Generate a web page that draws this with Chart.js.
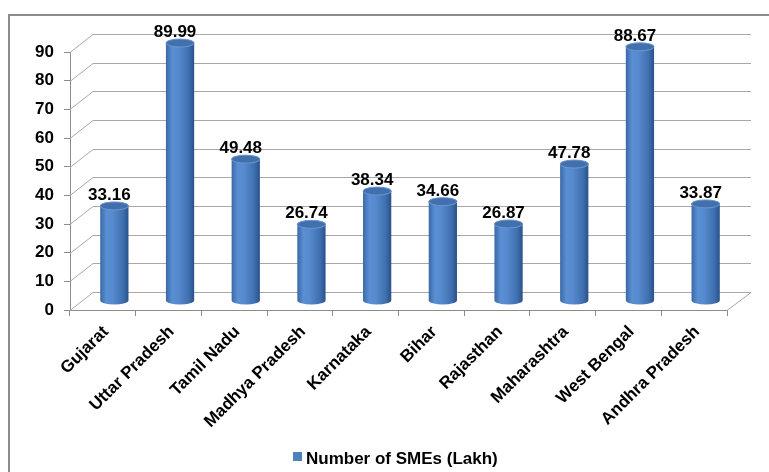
<!DOCTYPE html>
<html>
<head>
<meta charset="utf-8">
<script src="https://cdn.jsdelivr.net/npm/chart.js@4.4.1/dist/chart.umd.min.js"></script>
<style>
  body { margin: 0; background: #fff; }
  #wrap { width: 769px; height: 472px; }
</style>
</head>
<body>
<div id="wrap"><canvas id="myChart"></canvas></div>
<script>
const states = ["Gujarat", "Uttar Pradesh", "Tamil Nadu", "Madhya Pradesh", "Karnataka",
  "Bihar", "Rajasthan", "Maharashtra", "West Bengal", "Andhra Pradesh"];
const smes = [33.16, 89.99, 49.48, 26.74, 38.34, 34.66, 26.87, 47.78, 88.67, 33.87];
const seriesName = "Number of SMEs (Lakh)";

// depth of the fake 3d box (back wall offset)
const DX = 23;
const DY = 18;
const FONT = "'Liberation Sans', Arial, sans-serif";

const box3d = {
  id: "box3d",
  beforeDraw(chart) {
    const c = chart.ctx;
    c.save();
    c.strokeStyle = "#8c8c8c";
    c.lineWidth = 2;
    c.strokeRect(9, 15, 800, 500);
    c.restore();
  },
  beforeDatasetsDraw(chart) {
    const c = chart.ctx;
    const y = chart.scales.y;
    const a = chart.chartArea;
    c.save();
    c.strokeStyle = "#a8a8a8";
    c.lineWidth = 1;
    y.ticks.forEach((t) => {
      const py = Math.round(y.getPixelForValue(t.value)) + 0.5;
      c.beginPath();
      c.moveTo(a.left, py);
      c.lineTo(a.left + DX, py - DY);
      c.lineTo(a.right + DX + 1, py - DY);
      c.stroke();
    });
    // right edge of the floor
    c.beginPath();
    c.moveTo(a.right, a.bottom + 0.5);
    c.lineTo(a.right + DX + 1, a.bottom + 0.5 - DY);
    c.stroke();
    c.restore();
  },
  beforeDatasetDraw(chart, args) {
    const c = chart.ctx;
    const meta = chart.getDatasetMeta(args.index);
    c.save();
    meta.data.forEach((bar) => {
      const p = bar.getProps(["x", "y", "base", "width"], true);
      const cx = p.x + DX / 2;
      const top = p.y - DY / 2;
      const bot = p.base - DY / 2;
      const r = p.width / 2;
      const ry = 4;
      const g = c.createLinearGradient(cx - r, 0, cx + r, 0);
      g.addColorStop(0, "#3a68a6");
      g.addColorStop(0.22, "#5a8fd4");
      g.addColorStop(0.45, "#5689cd");
      g.addColorStop(0.8, "#3f70b0");
      g.addColorStop(1, "#2b5189");
      c.beginPath();
      c.moveTo(cx - r, top);
      c.lineTo(cx - r, bot);
      c.ellipse(cx, bot, r, ry, 0, Math.PI, 0, true);
      c.lineTo(cx + r, top);
      c.ellipse(cx, top, r, ry, 0, 0, Math.PI, true);
      c.closePath();
      c.fillStyle = g;
      c.fill();
      c.beginPath();
      c.ellipse(cx, top, r, ry, 0, 0, Math.PI * 2);
      c.fillStyle = "#4170ad";
      c.fill();
      c.strokeStyle = "#6d98d2";
      c.lineWidth = 1;
      c.stroke();
    });
    c.restore();
    return false;
  },
  afterDatasetsDraw(chart) {
    const c = chart.ctx;
    const meta = chart.getDatasetMeta(0);
    c.save();
    c.font = "bold 17px " + FONT;
    c.fillStyle = "#000";
    c.textAlign = "center";
    c.textBaseline = "alphabetic";
    meta.data.forEach((bar, i) => {
      const p = bar.getProps(["x", "y"], true);
      c.fillText(smes[i].toFixed(2), p.x + DX / 2 - 5, p.y - DY / 2 - 6);
    });

    // legend, Excel style, under the axis labels
    const ds = chart.data.datasets[0];
    c.fillStyle = ds.backgroundColor;
    c.fillRect(293, 452, 9, 9);
    c.fillStyle = "#000";
    c.textAlign = "left";
    c.font = "bold 17px " + FONT;
    c.fillText(ds.label, 306, 464);
    c.restore();
  },
};

const ctx = document.getElementById("myChart");

new Chart(ctx, {
  type: "bar",
  data: {
    labels: states,
    datasets: [
      {
        label: seriesName,
        data: smes,
        backgroundColor: "#4f81bd",
        barPercentage: 0.43,
        categoryPercentage: 1,
      },
    ],
  },
  options: {
    responsive: true,
    maintainAspectRatio: false,
    animation: false,
    layout: {
      padding: { left: 0, right: 42, top: 52, bottom: 0 },
    },
    scales: {
      x: {
        grid: {
          offset: true,
          drawOnChartArea: false,
          tickLength: 6,
          color: "#8c8c8c",
        },
        border: { display: true, color: "#8c8c8c" },
        ticks: {
          autoSkip: false,
          maxRotation: 45,
          minRotation: 45,
          padding: 6,
          labelOffset: 3,
          color: "#000",
          font: { family: FONT, size: 17, weight: "bold" },
        },
        afterFit(scale) {
          scale.height = 162;
        },
      },
      y: {
        min: 0,
        max: 90,
        ticks: {
          stepSize: 10,
          padding: 10,
          color: "#000",
          font: { family: FONT, size: 17, weight: "bold" },
        },
        grid: {
          drawOnChartArea: false,
          tickLength: 6,
          color: "#8c8c8c",
        },
        border: { display: true, color: "#8c8c8c" },
        afterFit(scale) {
          scale.width = 70;
        },
      },
    },
    plugins: {
      legend: { display: false },
      tooltip: { enabled: false },
    },
  },
  plugins: [box3d],
});
</script>
</body>
</html>
